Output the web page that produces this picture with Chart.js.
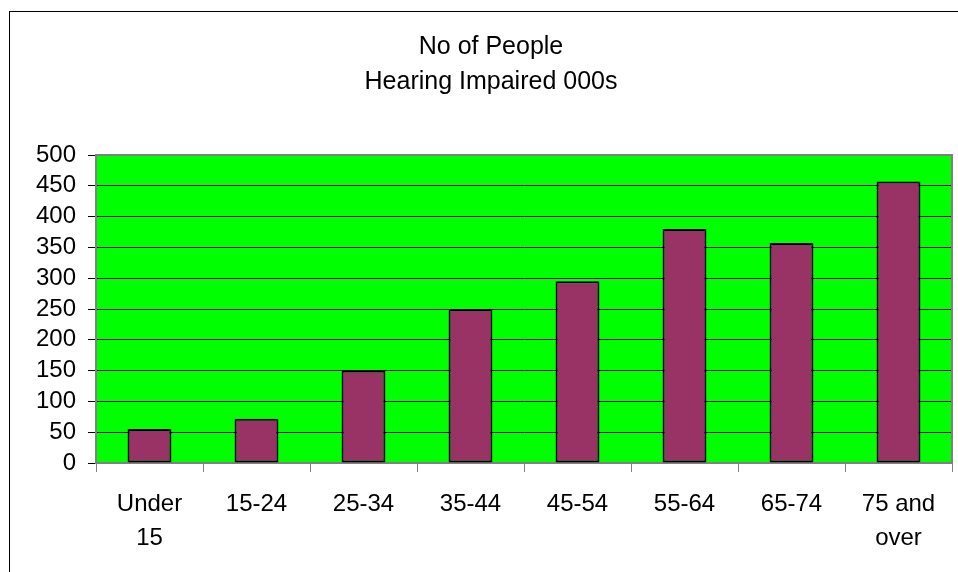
<!DOCTYPE html>
<html>
<head>
<meta charset="utf-8">
<script src="https://cdn.jsdelivr.net/npm/chart.js@4/dist/chart.umd.min.js"></script>
<style>
  html, body { margin: 0; padding: 0; background: #ffffff; overflow: hidden; }
  #wrap { position: absolute; left: 0; top: 0; width: 982px; height: 572px; }
</style>
</head>
<body>
<div id="wrap"><canvas id="chart" width="982" height="572"></canvas></div>
<script>
// Age groups (multi-line labels where the text wraps)
const categories = [["Under", "15"], "15-24", "25-34", "35-44", "45-54", "55-64", "65-74", ["75 and", "over"]];
// Number of hearing-impaired people, thousands
const peopleThousands = [55, 72, 150, 250, 295, 380, 357, 457];
// Value axis ticks
const yTicks = [0, 50, 100, 150, 200, 250, 300, 350, 400, 450, 500];
const titleLines = ["No of People", "Hearing Impaired 000s"];

const FONT = "'Liberation Sans', Arial, sans-serif";

// Outer chart border, green plot background, grey plot frame and the title
const framePlugin = {
  id: 'frame',
  beforeDraw(chart) {
    const { ctx, chartArea: a } = chart;
    ctx.save();
    ctx.fillStyle = '#ffffff';
    ctx.fillRect(0, 0, chart.width, chart.height);
    ctx.strokeStyle = '#000000';
    ctx.lineWidth = 1;
    ctx.strokeRect(9.5, 11.5, 963, 600);
    ctx.fillStyle = '#00ff00';
    ctx.fillRect(a.left, a.top, a.right - a.left, a.bottom - a.top);
    // title, centred on the whole chart box
    ctx.fillStyle = '#000000';
    ctx.font = '25px ' + FONT;
    ctx.textAlign = 'center';
    ctx.textBaseline = 'middle';
    const cx = (9.5 + 972.5) / 2;
    titleLines.forEach((line, i) => ctx.fillText(line, cx, 47 + i * 35));
    ctx.restore();
  },
  afterDatasetsDraw(chart) {
    const { ctx, chartArea: a } = chart;
    ctx.save();
    ctx.strokeStyle = '#808080';
    ctx.lineWidth = 2;
    ctx.beginPath();
    ctx.moveTo(a.left, a.top);
    ctx.lineTo(a.right, a.top);
    ctx.lineTo(a.right, a.bottom);
    ctx.stroke();
    ctx.restore();
  }
};

new Chart(document.getElementById('chart'), {
  type: 'bar',
  data: {
    labels: categories,
    datasets: [{
      data: peopleThousands,
      backgroundColor: '#993366',
      borderColor: '#000000',
      borderWidth: 2,
      borderSkipped: false,
      barPercentage: 0.41,
      categoryPercentage: 1.0
    }]
  },
  options: {
    responsive: false,
    animation: false,
    devicePixelRatio: 1,
    layout: { padding: { left: 0, right: 30, top: 155, bottom: 0 } },
    plugins: {
      legend: { display: false },
      tooltip: { enabled: false },
      title: { display: false }
    },
    scales: {
      x: {
        grid: {
          display: true,
          drawOnChartArea: false,
          drawTicks: true,
          tickLength: 9,
          tickColor: '#808080',
          offset: true
        },
        border: { display: true, color: '#808080', width: 2 },
        ticks: {
          color: '#000000',
          font: { family: FONT, size: 24, lineHeight: 1.4 },
          padding: 16,
          maxRotation: 0,
          autoSkip: false
        },
        afterFit(scale) { scale.height = 109; }
      },
      y: {
        min: 0,
        max: 500,
        afterBuildTicks(scale) { scale.ticks = yTicks.map(v => ({ value: v })); },
        grid: {
          color: '#000000',
          lineWidth: 1,
          drawTicks: true,
          tickLength: 8,
          tickColor: '#000000'
        },
        border: { display: true, color: '#808080', width: 2 },
        ticks: {
          color: '#000000',
          font: { family: FONT, size: 24 },
          padding: 12,
          autoSkip: false
        },
        afterFit(scale) { scale.width = 96; }
      }
    }
  },
  plugins: [framePlugin]
});
</script>
</body>
</html>
